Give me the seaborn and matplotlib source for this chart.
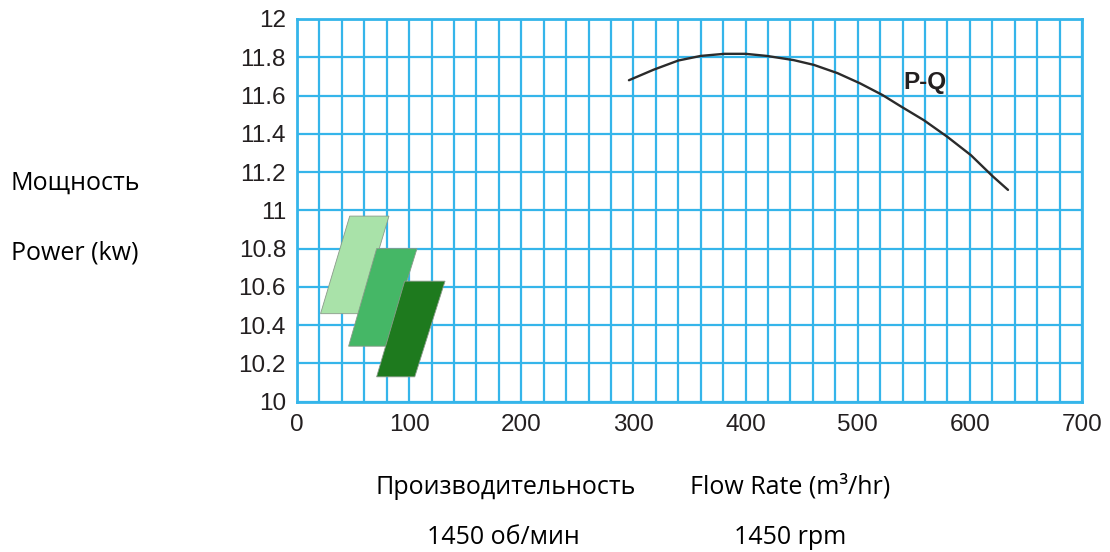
import matplotlib
matplotlib.use("Agg")
import matplotlib.pyplot as plt
import seaborn as sns
import pandas as pd
import numpy as np
from matplotlib.patches import Polygon

# Data
flow = [296, 318, 340, 360, 381, 400, 419, 443, 461, 482, 502, 522, 538, 559, 580, 601, 620, 634]
power = [11.68, 11.735, 11.783, 11.807, 11.818, 11.818, 11.807, 11.785, 11.76, 11.717,
         11.664, 11.603, 11.545, 11.471, 11.384, 11.288, 11.18, 11.107]
series_label = "P-Q"
x_ticks = [0, 100, 200, 300, 400, 500, 600, 700]
y_ticks = [10, 10.2, 10.4, 10.6, 10.8, 11, 11.2, 11.4, 11.6, 11.8, 12]
y_tick_labels = ["10", "10.2", "10.4", "10.6", "10.8", "11", "11.2", "11.4", "11.6", "11.8", "12"]

# decorative parallelograms (data coords)
light_shape = [(21, 10.46), (47, 10.97), (82, 10.97), (56, 10.46)]
mid_shape = [(46, 10.29), (71, 10.80), (107, 10.80), (80, 10.29)]
dark_shape = [(71, 10.13), (96, 10.63), (132, 10.63), (105, 10.13)]

sns.set_theme(style="white")
plt.rcParams['font.family'] = ['Liberation Sans', 'DejaVu Sans']

W, H = 1110, 552
fig = plt.figure(figsize=(W / 100, H / 100), dpi=100)
ax = fig.add_axes([297 / W, 1 - 401.7 / H, (1082 - 297) / W, (401.7 - 19) / H])

grid_c = "#35b5ea"
df = pd.DataFrame({"flow": flow, "power": power})
sns.lineplot(data=df, x="flow", y="power", ax=ax, color="#2b2b2b", linewidth=1.7, zorder=5)
for l in ax.lines:
    l.set_solid_joinstyle("round")

for shape, col in [(light_shape, "#a9e2a9"), (mid_shape, "#45b766"), (dark_shape, "#1e7a1e")]:
    ax.add_patch(Polygon(shape, closed=True, facecolor=col, edgecolor="#8a9a8a",
                         linewidth=0.6, zorder=4))

ax.text(560, 11.67, series_label, fontsize=17.5, fontweight="bold", color="#231f20",
        ha="center", va="center", zorder=6)

ax.set_xlim(0, 700)
ax.set_ylim(10, 12)
ax.set_xticks(np.arange(0, 701, 20), minor=True)
ax.set_xticks(x_ticks)
ax.set_yticks(y_ticks)
ax.set_yticklabels(y_tick_labels)
ax.grid(True, which="both", axis="x", color=grid_c, linewidth=1.6)
ax.grid(True, which="major", axis="y", color=grid_c, linewidth=1.6)
ax.set_axisbelow(True)
for s in ax.spines.values():
    s.set_color(grid_c)
    s.set_linewidth(2)
ax.tick_params(axis="both", which="both", length=0, labelsize=17.5, labelcolor="#231f20")
ax.tick_params(axis="y", pad=8)
ax.tick_params(axis="x", pad=9)
ax.set_xlabel("")
ax.set_ylabel("")

tf = ['Open Sans', 'DejaVu Sans']
def ftext(x, y, s):
    fig.text(x / W, 1 - y / H, s, ha="center", va="center", fontsize=18,
             family=tf, color="#000000")

ftext(75, 183, "Мощность")
ftext(75, 253, "Power (kw)")
ftext(506, 487, "Производительность")
ftext(790, 487, "Flow Rate (m³/hr)")
ftext(503, 538, "1450 об/мин")
ftext(790, 538, "1450 rpm")

fig.savefig("out.png", dpi=100)
